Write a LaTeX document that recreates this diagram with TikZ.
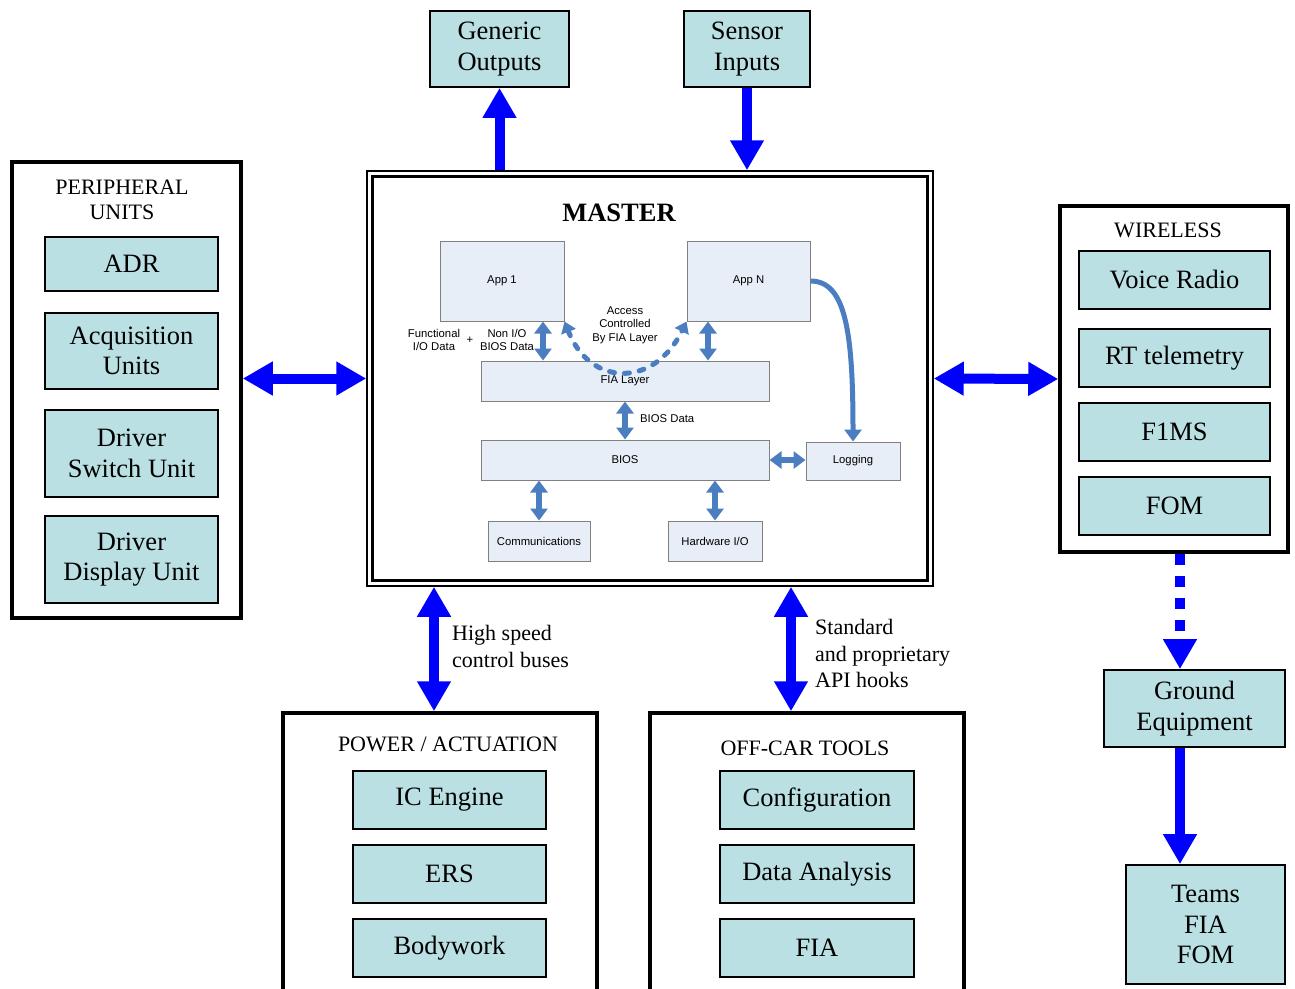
\documentclass[tikz,border=0pt]{standalone}
\usepackage{fontspec}
\setmainfont{Liberation Serif}
\newfontfamily\appfont{Liberation Sans}
\usetikzlibrary{arrows.meta,positioning}

\definecolor{unitfill}{RGB}{187,224,227}
\definecolor{appfill}{RGB}{232,238,247}
\definecolor{appline}{RGB}{128,128,128}
\definecolor{flowblue}{RGB}{0,0,255}
\definecolor{busblue}{RGB}{74,126,193}

\begin{document}
\begin{tikzpicture}[x=1pt, y=-1pt,
  unit/.style = {draw, line width=1.8pt, fill=unitfill, inner sep=2pt, align=center, font=\fontsize{26.5}{30.5}\selectfont},
  frame/.style = {draw, line width=3.5pt, fill=white},
  heading/.style = {align=center, inner sep=0pt, font=\fontsize{22}{25}\selectfont},
  edgelabel/.style = {anchor=west, align=left, inner sep=0pt, font=\fontsize{22}{26.5}\selectfont},
  app/.style = {draw=appline, line width=1pt, fill=appfill, inner sep=1pt, font=\appfont\fontsize{11.3}{13.5}\selectfont},
  note/.style = {align=center, inner sep=0pt, font=\appfont\fontsize{11.3}{13.5}\selectfont},
  bigflow/.style = {line width=10pt, flowblue, >={Triangle[width=32pt,length=30pt]}},
  busflow/.style = {line width=6pt, busblue, >={Triangle[width=17pt,length=12pt]}},
  accessflow/.style = {line width=5pt, busblue, line cap=round, dash pattern=on 5pt off 10pt, >={Triangle[width=15pt,length=11pt]}}]
\clip (0,0) rectangle (1295,988);

% outer groups
\node[frame, minimum width=229pt, minimum height=456pt] (peri) at (126.5,390) {};
\node[frame, minimum width=228pt, minimum height=346pt] (wireless) at (1174,379) {};
\node[frame, minimum width=314pt, minimum height=287pt] (power) at (440,856.5) {};
\node[frame, minimum width=314pt, minimum height=287pt] (offcar) at (807,856.5) {};

\node[heading] (perititle) at (122,199.5) {PERIPHERAL\\UNITS};
\node[heading] (wirelesstitle) at (1168,230) {WIRELESS};
\node[heading] (powertitle) at (448,744) {POWER / ACTUATION};
\node[heading] (offcartitle) at (805,748) {OFF-CAR TOOLS};

\foreach \nm/\yc/\bh/\txt in {adr/264/54/ADR, acq/351/76/{Acquisition\\Units}, switch/453.5/87/{Driver\\Switch Unit}, display/559.5/87/{Driver\\Display Unit}}
  \node[unit, minimum width=173pt, minimum height=\bh pt] (\nm) at (131.5,\yc) {\txt};

\foreach \nm/\yc/\txt in {voice/280/Voice Radio, rt/358/RT telemetry, f1ms/432/F1MS, fom/506/FOM}
  \node[unit, minimum width=191pt, minimum height=58pt] (\nm) at (1174.5,\yc) {\txt};

\foreach \nm/\yc/\txt in {icengine/800/IC Engine, ers/874/ERS, bodywork/948/Bodywork}
  \node[unit, minimum width=193pt, minimum height=58pt] (\nm) at (449.5,\yc) {\txt};

\foreach \nm/\yc/\txt in {config/800/Configuration, analysis/874/Data Analysis, fiatool/948/FIA}
  \node[unit, minimum width=194pt, minimum height=58pt] (\nm) at (817,\yc) {\txt};

\node[unit, minimum width=139pt, minimum height=76pt] (genout) at (499.5,49) {Generic\\Outputs};
\node[unit, minimum width=126pt, minimum height=76pt] (sensin) at (747,49) {Sensor\\Inputs};
\node[unit, minimum width=181pt, minimum height=77pt] (ground) at (1194.5,708.5) {Ground\\Equipment};
\node[unit, minimum width=159pt, minimum height=119pt] (teams) at (1205.5,924.5) {Teams\\FIA\\FOM};

% master
\node[draw, line width=1.5pt, fill=white, minimum width=566pt, minimum height=415pt] (master) at (650,378.5) {};
\draw[line width=3pt] ([shift={(6pt,6pt)}]master.south west) rectangle ([shift={(-6pt,-6pt)}]master.north east);
\node[font=\fontsize{26.5}{30}\selectfont\bfseries] (mastertitle) at (619,213) {MASTER};

\node[app, minimum width=124pt, minimum height=80pt] (app1) at (502,281) {App 1};
\node[app, minimum width=123pt, minimum height=80pt] (appn) at (748.5,281) {App N};
\node[app, minimum width=288pt, minimum height=40pt] (fialayer) at (625,381) {FIA Layer};
\node[app, minimum width=288pt, minimum height=40pt] (bios) at (625,460) {BIOS};
\node[app, minimum width=94pt, minimum height=38pt] (logging) at (853,461) {Logging};
\node[app, minimum width=102pt, minimum height=40pt] (comms) at (539,541) {Communications};
\node[app, minimum width=94pt, minimum height=40pt] (hwio) at (715,541) {Hardware I/O};

\node[note] (funclbl) at (434,340) {Functional\\I/O Data};
\node[note] (pluslbl) at (470,340) {+};
\node[note] (nonlbl) at (507,340) {Non I/O\\BIOS Data};
\node[note] (accesslbl) at (625,325) {Access\\Controlled\\By FIA Layer};
\node[note, anchor=west] (bioslbl) at (640,419) {BIOS Data};

\coordinate (lane1) at (543,340);
\coordinate (lane2) at (708,340);
\draw[busflow, <->] (lane1 |- app1.south) -- (lane1 |- fialayer.north);
\draw[busflow, <->] (lane2 |- appn.south) -- (lane2 |- fialayer.north);
\draw[busflow, <->] (fialayer.south) -- (bios.north);
\draw[busflow, <->] (bios.east) -- (logging.west |- bios.east);
\draw[busflow, <->] (comms.north |- bios.south) -- (comms.north);
\draw[busflow, <->] (hwio.north |- bios.south) -- (hwio.north);
\draw[accessflow, <->] (app1.south east) .. controls +(26pt,-66pt) and +(-32pt,-66pt) .. (appn.south west);
\draw[busflow, line width=5pt, ->] (appn.east) .. controls +(35pt,0pt) and +(0pt,110pt) .. (logging.north);

% links
\draw[bigflow, <->] (peri.east |- master.west) -- (master.west);
\draw[bigflow, <->] (master.east) -- (wireless.west);
\draw[bigflow, ->] (genout.south |- master.north) -- (genout.south);
\draw[bigflow, ->] (sensin.south) -- (sensin.south |- master.north);
\coordinate (hsbus) at (434,650);
\coordinate (apibus) at (791,650);
\coordinate (radiolink) at (1180,600);
\draw[bigflow, <->] (hsbus |- master.south) -- (hsbus |- power.north);
\draw[bigflow, <->] (apibus |- master.south) -- (apibus |- offcar.north);
\draw[bigflow, ->, dash pattern=on 11pt off 11pt] (radiolink |- wireless.south) -- (radiolink |- ground.north);
\draw[bigflow, ->] (radiolink |- ground.south) -- (radiolink |- teams.north);

\node[edgelabel] (hslbl) at (452,646.5) {High speed\\control buses};
\node[edgelabel] (apilbl) at (815,653.5) {Standard\\and proprietary\\API hooks};
\end{tikzpicture}
\end{document}
